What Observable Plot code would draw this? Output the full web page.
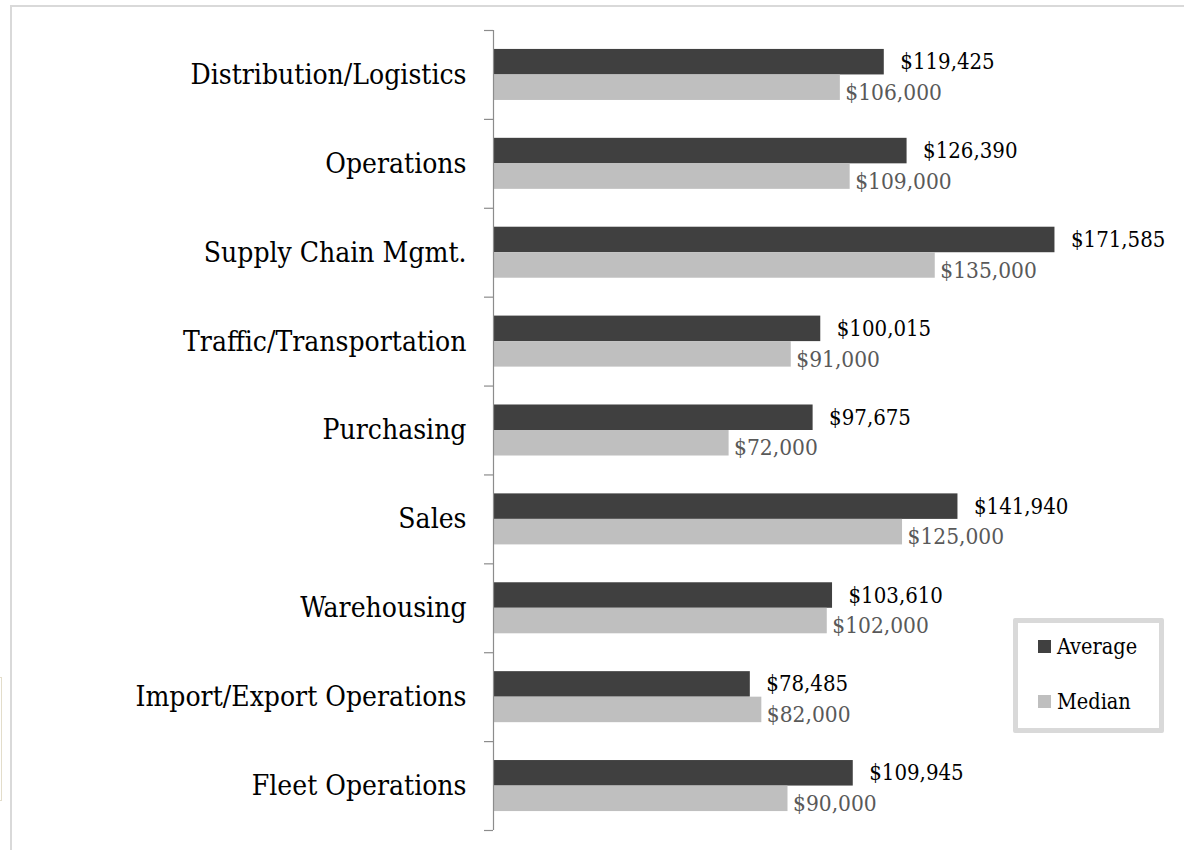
<!DOCTYPE html>
<html>
<head>
<meta charset="utf-8">
<script src="https://cdn.jsdelivr.net/npm/d3@7"></script>
<script src="https://cdn.jsdelivr.net/npm/@observablehq/plot@0.6"></script>
<style>
  html, body { margin: 0; padding: 0; background: #ffffff; }
  body { width: 1184px; height: 850px; position: relative; overflow: hidden; font-family: "DejaVu Serif Condensed", "DejaVu Serif", serif; font-stretch: condensed; }
  #frame { position: absolute; left: 10px; top: 5px; width: 1300px; height: 900px; border-top: 2px solid #d9d9d9; border-left: 2px solid #d9d9d9; box-sizing: border-box; }
  #stray { position: absolute; left: -10px; top: 677px; width: 12px; height: 124px; border: 1px solid #e3ddca; box-sizing: border-box; }
  #chart { position: absolute; left: 0; top: 0; }
  #chart svg { font-stretch: condensed; }
  #legend { position: absolute; left: 1013px; top: 618px; width: 151px; height: 115px; border: 5px solid #d9d9d9; border-radius: 2px; box-sizing: border-box; background: #fff; }
  .item { position: absolute; left: 20px; display: flex; align-items: center; font-size: 21.5px; color: #000; line-height: 1; }
  .sw { width: 13px; height: 13px; margin-right: 6px; }
</style>
</head>
<body>
<div id="frame"></div>
<div id="stray"></div>
<div id="chart"></div>
<div id="legend"></div>
<script>
const categories = ["Distribution/Logistics", "Operations", "Supply Chain Mgmt.", "Traffic/Transportation", "Purchasing", "Sales", "Warehousing", "Import/Export Operations", "Fleet Operations"];
const average = [119425, 126390, 171585, 100015, 97675, 141940, 103610, 78485, 109945];
const median = [106000, 109000, 135000, 91000, 72000, 125000, 102000, 82000, 90000];
const seriesNames = ["Average", "Median"];
const seriesColors = ["#404040", "#bfbfbf"];

const W = 1184, H = 850, mTop = 30, mBottom = 20, mLeft = 493, mRight = 102;
const step = (H - mTop - mBottom) / categories.length;
const band = step * (1 - 0.426);
const half = band / 2;

const avgRows = categories.map((c, i) => ({category: c, value: average[i]}));
const medRows = categories.map((c, i) => ({category: c, value: median[i]}));
const fmt = v => "$" + d3.format(",")(v);

const bounds = categories.map(c => ({category: c, off: -step / 2}))
  .concat([{category: categories[categories.length - 1], off: step / 2}]);

const plot = Plot.plot({
  width: W, height: H,
  marginTop: mTop, marginBottom: mBottom, marginLeft: mLeft, marginRight: mRight,
  style: {fontFamily: "'DejaVu Serif Condensed', 'DejaVu Serif', serif", background: "transparent", overflow: "visible"},
  x: {domain: [0, 180000], axis: null},
  y: {domain: categories, paddingInner: 0.426, paddingOuter: 0.213, round: false, label: null, axis: null},
  marks: [
    Plot.barX(avgRows, {x: "value", y: "category", fill: seriesColors[0], insetBottom: half}),
    Plot.barX(medRows, {x: "value", y: "category", fill: seriesColors[1], insetTop: half}),
    Plot.ruleX([0], {stroke: "#8c8c8c", strokeWidth: 1.2}),
    ...bounds.map(b => Plot.ruleY([b], {y: "category", x1: 0, x2: 0, insetLeft: -9, dy: b.off, stroke: "#8c8c8c", strokeWidth: 1.2})),
    Plot.axisY({tickSize: 0, tickPadding: 27, fontSize: 28, label: null, fill: "#000"}),
    Plot.text(avgRows, {x: "value", y: "category", text: d => fmt(d.value), textAnchor: "start", dx: 16, dy: -half / 2, fontSize: 22, fill: "#000"}),
    Plot.text(medRows, {x: "value", y: "category", text: d => fmt(d.value), textAnchor: "start", dx: 5, dy: half / 2 + 5, fontSize: 22.5, fill: "#595959"})
  ]
});
document.getElementById("chart").appendChild(plot);

const legend = document.getElementById("legend");
seriesNames.forEach((name, i) => {
  const item = document.createElement("div");
  item.className = "item";
  item.style.top = (i === 0 ? 13 : 68) + "px";
  const sw = document.createElement("span");
  sw.className = "sw";
  sw.style.background = seriesColors[i];
  const t = document.createElement("span");
  t.textContent = name;
  item.appendChild(sw);
  item.appendChild(t);
  legend.appendChild(item);
});
</script>
</body>
</html>
